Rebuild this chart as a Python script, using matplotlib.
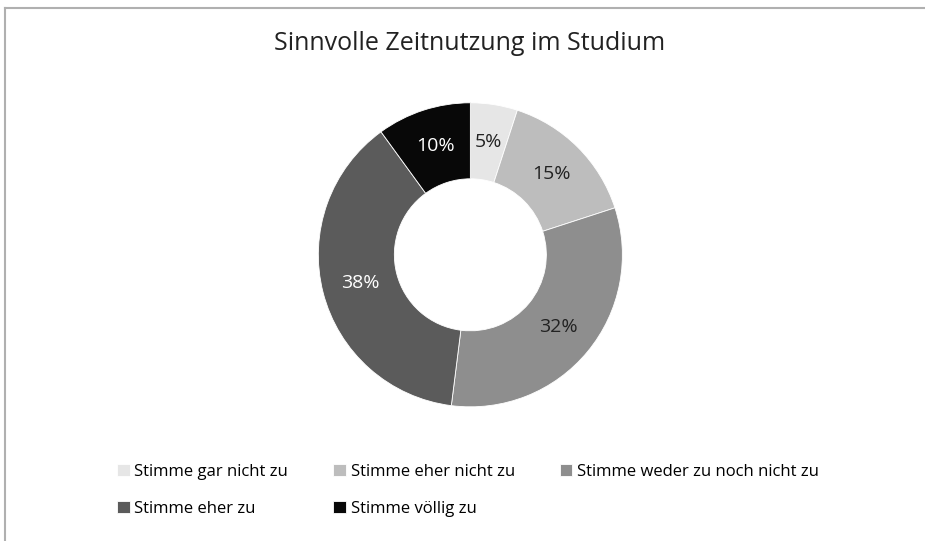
import matplotlib.pyplot as plt
from matplotlib.lines import Line2D

categories = ["Stimme gar nicht zu", "Stimme eher nicht zu",
              "Stimme weder zu noch nicht zu", "Stimme eher zu",
              "Stimme völlig zu"]
shares = [5, 15, 32, 38, 10]
colors = ["#e6e6e6", "#bdbdbd", "#8e8e8e", "#5b5b5b", "#080808"]
label_colors = ["#222222", "#222222", "#222222", "#ffffff", "#ffffff"]

plt.rcParams['font.family'] = ['Open Sans', 'DejaVu Sans']

fig = plt.figure(figsize=(9.25, 5.41), dpi=100)

# frame lines (top and left) like the source image
fig.add_artist(Line2D([5/925, 1], [1 - 8/541, 1 - 8/541], color="#b0b0b0", lw=1.5,
                      transform=fig.transFigure))
fig.add_artist(Line2D([5/925, 5/925], [0, 1 - 8/541], color="#b0b0b0", lw=1.5,
                      transform=fig.transFigure))

fig.text(470/925, 1 - 43/541, "Sinnvolle Zeitnutzung im Studium",
         ha="center", va="center", fontsize=18, color="#222222")

ax = fig.add_axes([0.344, 0.248, 0.329, 0.562])
wedges, texts, autotexts = ax.pie(
    shares, colors=colors, startangle=90, counterclock=False,
    wedgeprops=dict(width=0.5, edgecolor="white", linewidth=0.6),
    autopct="%d%%", pctdistance=0.75, textprops=dict(fontsize=14))
for t, c in zip(autotexts, label_colors):
    t.set_color(c)
ax.set_xlim(-1, 1)
ax.set_ylim(-1, 1)
ax.set_aspect("equal")

# row-major legend order for 3 columns
order = [0, 3, 1, 4, 2]
fig.legend([wedges[i] for i in order], [categories[i] for i in order],
           ncol=3, loc="upper left", bbox_to_anchor=(102/925, 1 - 449/541),
           frameon=False, fontsize=12, handlelength=0.75, handleheight=0.75,
           handletextpad=0.3, columnspacing=2.7, labelspacing=1.25)

fig.savefig("out.png", dpi=100)
